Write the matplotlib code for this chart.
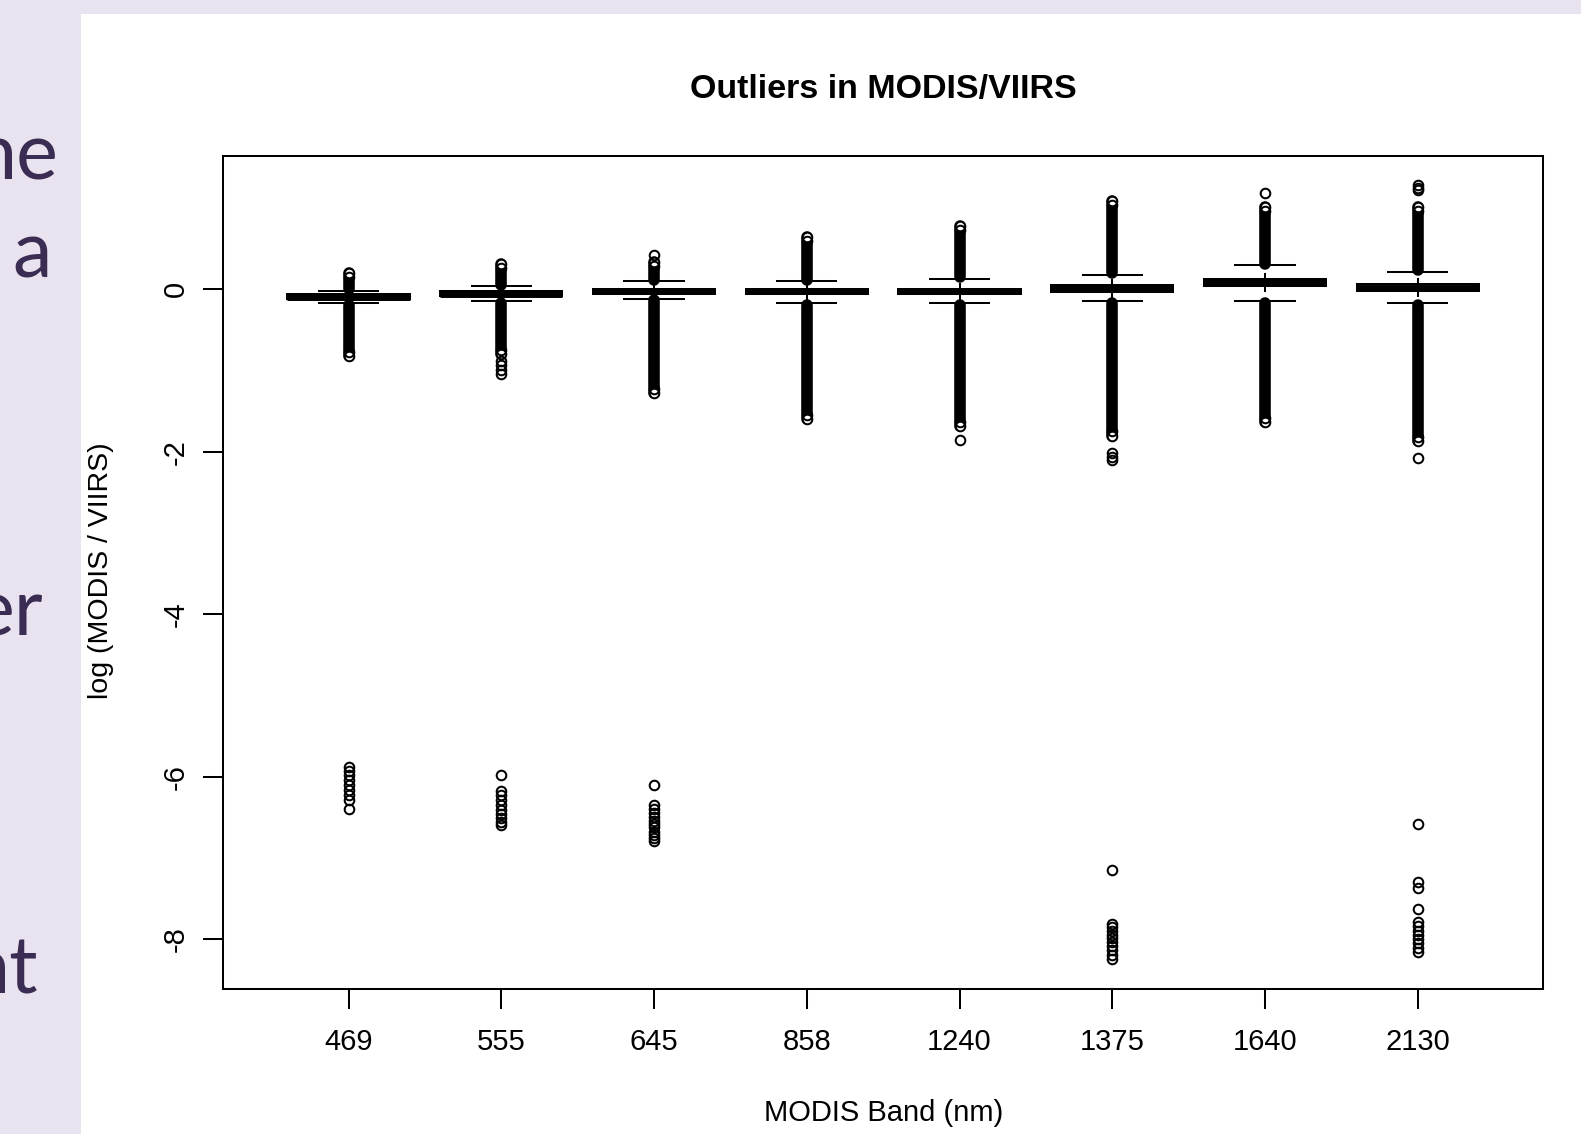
import matplotlib
matplotlib.use('Agg')
import matplotlib.pyplot as plt
from matplotlib.patches import Rectangle
import numpy as np

plt.rcParams['font.family'] = ['Liberation Sans', 'DejaVu Sans']
plt.rcParams['axes.unicode_minus'] = False

# ---------------- data ----------------
bands = ['469', '555', '645', '858', '1240', '1375', '1640', '2130']
q1 = [-0.12, -0.085, -0.06, -0.06, -0.06, -0.03, 0.04, -0.022]
median = [-0.09, -0.055, -0.027, -0.027, -0.027, 0.01, 0.085, 0.02]
q3 = [-0.06, -0.02, 0.005, 0.005, 0.005, 0.055, 0.13, 0.062]
whisker_lo = [-0.168, -0.145, -0.115, -0.168, -0.168, -0.148, -0.145, -0.172]
whisker_hi = [-0.025, 0.035, 0.098, 0.098, 0.127, 0.181, 0.295, 0.213]

# dense runs of outliers (start next to whisker, end at extreme)
upper_run = [(0.00, 0.20), (0.055, 0.307), (0.12, 0.336), (0.12, 0.643),
             (0.15, 0.775), (0.20, 1.09), (0.315, 1.01), (0.235, 1.01)]
lower_run = [(-0.19, -0.818), (-0.165, -0.80), (-0.135, -1.275), (-0.19, -1.60),
             (-0.19, -1.685), (-0.17, -1.80), (-0.165, -1.63), (-0.19, -1.865)]

# separate outliers near the boxes
near_outliers = [
    [],
    [-0.88, -0.93, -0.99, -1.04],
    [0.427],
    [],
    [-1.857],
    [-2.02, -2.06, -2.10],
    [1.185],
    [1.28, 1.25, 1.22, -2.08],
]

# far outliers
far_outliers = [
    [-5.88, -5.93, -5.98, -6.04, -6.10, -6.16, -6.22, -6.29, -6.40],
    [-5.98, -6.17, -6.22, -6.29, -6.35, -6.41, -6.46, -6.50, -6.55, -6.59],
    [-6.10, -6.34, -6.39, -6.44, -6.49, -6.54, -6.58, -6.62, -6.68, -6.72, -6.75, -6.79],
    [],
    [],
    [-7.14, -7.81, -7.85, -7.90, -7.94, -7.98, -8.03, -8.08, -8.13, -8.19, -8.24],
    [],
    [-6.58, -7.29, -7.37, -7.62, -7.79, -7.84, -7.90, -7.95, -8.00, -8.05, -8.10, -8.15],
]

yticks = [0, -2, -4, -6, -8]
ytick_labels = ['0', '-2', '-4', '-6', '-8']
title = 'Outliers in MODIS/VIIRS'
xlabel = 'MODIS Band (nm)'
ylabel = 'log (MODIS / VIIRS)'
side_words = ['ne', 'a', 'er', 'nt']

# ---------------- figure ----------------
W, H = 1581, 1134
fig = plt.figure(figsize=(W / 100, H / 100), dpi=100)
fig.patch.set_facecolor('#E9E3EF')
fig.patches.append(Rectangle((81 / W, 0), 1 - 81 / W, 1 - 14 / H,
                             transform=fig.transFigure, facecolor='white',
                             edgecolor='none', zorder=-5))

# side text fragments of the slide (cut off at the left edge, as in the slide)
side_pos = [(58, 180), (52, 277), (43, 636), (38, 993)]
for word, (px, py) in zip(side_words, side_pos):
    fig.text(px / W, 1 - py / H, word, ha='right', va='baseline',
             fontsize=57, color='#3A2C52', family=['Lato', 'DejaVu Sans'])

ax = fig.add_axes([223.3 / W, 1 - 989 / H, (1543 - 223.3) / W, (989 - 156) / H])
ax.set_facecolor('white')
ax.set_xlim(0.18, 8.82)
ax.set_ylim(-8.61, 1.64)

MS = 6.9
MEW = 1.45
BAND_LW = MS + MEW
LW = 1.45

positions = np.arange(1, len(bands) + 1)
for i, x in enumerate(positions):
    ax.add_patch(Rectangle((x - 0.4, q1[i]), 0.8, q3[i] - q1[i], facecolor='white',
                           edgecolor='black', lw=LW, zorder=2))
    ax.plot([x - 0.4, x + 0.4], [median[i]] * 2, color='black', lw=5.0,
            solid_capstyle='butt', zorder=3)
    ax.plot([x, x], [q3[i], whisker_hi[i]], color='black', lw=LW, ls=(0, (3, 3)), zorder=2)
    ax.plot([x, x], [q1[i], whisker_lo[i]], color='black', lw=LW, ls=(0, (3, 3)), zorder=2)
    for w in (whisker_lo[i], whisker_hi[i]):
        ax.plot([x - 0.2, x + 0.2], [w, w], color='black', lw=LW,
                solid_capstyle='butt', zorder=2)
    for (s, e) in (upper_run[i], lower_run[i]):
        ax.plot([x, x], [s, e], color='black', lw=BAND_LW, solid_capstyle='round', zorder=4)
        ax.plot([x], [e], ls='none', marker='o', ms=MS, mew=MEW, mfc='white',
                mec='black', zorder=5)
        inward = e - np.sign(e - s) * 0.05
        ax.plot([x], [inward], ls='none', marker='o', ms=MS, mew=MEW, mfc='none',
                mec='black', zorder=5)
    pts = near_outliers[i] + far_outliers[i]
    if pts:
        ax.plot(np.full(len(pts), x), pts, ls='none', marker='o', ms=MS, mew=MEW,
                mfc='none', mec='black', zorder=6)

for sp in ax.spines.values():
    sp.set_linewidth(LW)
ax.set_xticks(positions, bands)
ax.set_yticks(yticks, ytick_labels)
ax.tick_params(axis='both', length=14.4, width=LW, direction='out', labelsize=21)
ax.tick_params(axis='x', pad=14)
ax.tick_params(axis='y', pad=10)
for lab in ax.get_yticklabels():
    lab.set_rotation(90)
    lab.set_va('center')

cx = (223.3 + 1543) / 2 / W
fig.text(cx, 1 - 98 / H, title, ha='center', va='baseline', fontsize=24.5, fontweight='bold')
fig.text(cx, 1 - 1113 / H, xlabel, ha='center', va='center', fontsize=21)
fig.text(101 / W, 1 - 571 / H, ylabel, ha='center', va='center', rotation=90, fontsize=20.5)

fig.savefig('out.png', dpi=100)
